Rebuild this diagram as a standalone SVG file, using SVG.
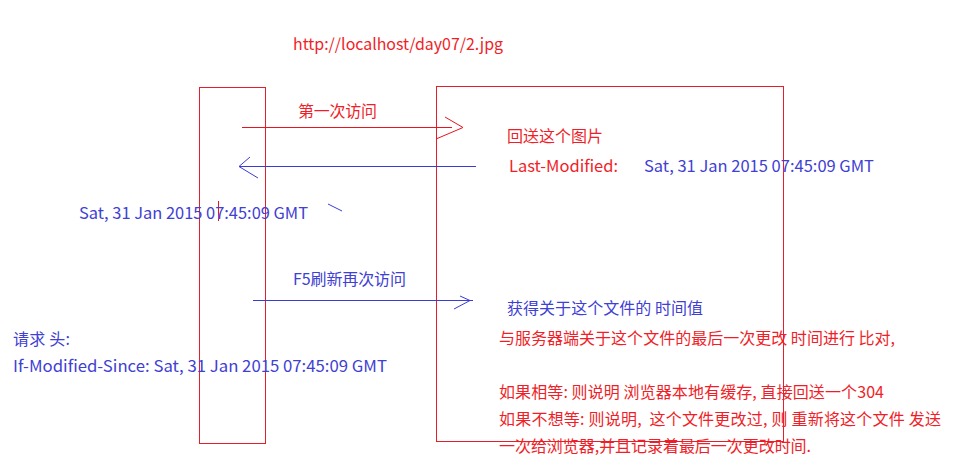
<svg xmlns="http://www.w3.org/2000/svg" width="966" height="473" viewBox="0 0 966 473">
<style>
  text { font-family: "Noto Sans CJK SC", "Liberation Sans", sans-serif; font-size: 16px; white-space: pre; }
  .r { fill: #f01e28; }
  .b { fill: #4040d4; }
  .box { fill: none; stroke: #e41e2b; stroke-width: 1; }
  .lr { fill: none; stroke: #e8141e; stroke-width: 1; }
  .lb { fill: none; stroke: #3b3bd6; stroke-width: 1; }
</style>
<rect width="966" height="473" fill="#ffffff"/>
<g id="browser">
  <rect class="box" x="199.5" y="87.5" width="66" height="356"/>
</g>
<g id="server">
  <rect class="box" x="436.5" y="86.5" width="347" height="355"/>
</g>
<g id="connectors">
  <g id="first-request">
    <line class="lr" x1="242" y1="127.5" x2="452" y2="127.5"/>
    <polyline class="lr" points="445,117 463,127.5 436,139"/>
  </g>
  <g id="response">
    <line class="lb" x1="239" y1="166.5" x2="476" y2="166.5"/>
    <polyline class="lb" points="250,157 239,166.5 258,178"/>
  </g>
  <g id="second-request">
    <line class="lb" x1="253" y1="300.5" x2="473" y2="300.5"/>
    <polyline class="lb" points="460,296 470,300.5 454,309"/>
  </g>
  <line class="lr" x1="218.5" y1="201" x2="218.5" y2="221"/>
  <line class="lb" x1="328" y1="204" x2="342" y2="211"/>
</g>
<g id="labels">
  <text class="r" x="293" y="50" textLength="210" lengthAdjust="spacingAndGlyphs">http://localhost/day07/2.jpg</text>
  <text class="r" x="298" y="117" textLength="79">第一次访问</text>
  <text class="r" x="507" y="142" textLength="96">回送这个图片</text>
  <text class="r" x="509" y="172" textLength="109" lengthAdjust="spacingAndGlyphs">Last-Modified:</text>
  <text class="b" x="644" y="172" textLength="230" lengthAdjust="spacingAndGlyphs">Sat, 31 Jan 2015 07:45:09 GMT</text>
  <text class="b" x="79" y="219" textLength="229" lengthAdjust="spacingAndGlyphs">Sat, 31 Jan 2015 07:45:09 GMT</text>
  <text class="b" x="293" y="285" textLength="113">F5刷新再次访问</text>
  <text class="b" x="507" y="314" textLength="196">获得关于这个文件的 时间值</text>
  <text class="r" x="499" y="344" textLength="396">与服务器端关于这个文件的最后一次更改 时间进行 比对,</text>
  <text class="r" x="499" y="398" textLength="385">如果相等: 则说明 浏览器本地有缓存, 直接回送一个304</text>
  <text class="r" x="499" y="425" textLength="442" xml:space="preserve">如果不想等: 则说明,  这个文件更改过, 则 重新将这个文件 发送</text>
  <text class="r" x="499" y="452" textLength="312">一次给浏览器,并且记录着最后一次更改时间.</text>
  <text class="b" x="13" y="345" textLength="57">请求 头:</text>
  <text class="b" x="13" y="372" textLength="374" lengthAdjust="spacingAndGlyphs">If-Modified-Since: Sat, 31 Jan 2015 07:45:09 GMT</text>
</g>
</svg>
